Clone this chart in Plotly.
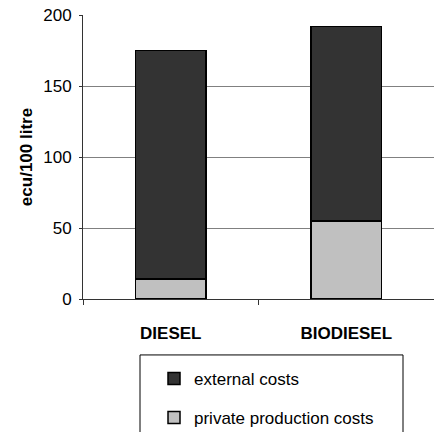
import plotly.graph_objects as go

# Cost comparison per 100 litres of fuel
fuels = ["DIESEL", "BIODIESEL"]
private_costs = [14, 55]
external_costs = [161, 137]

y_ticks = [0, 50, 100, 150, 200]

FONT = "Liberation Sans, Arial, sans-serif"

fig = go.Figure()
fig.add_trace(go.Bar(
    x=fuels, y=private_costs, name="private production costs",
    marker=dict(color="#c0c0c0", line=dict(color="#000000", width=1.5)),
    legendgroup="b", legendrank=2, width=0.4,
))
fig.add_trace(go.Bar(
    x=fuels, y=external_costs, name="external costs",
    marker=dict(color="#333333", line=dict(color="#000000", width=1.5)),
    legendgroup="a", legendrank=1, width=0.4,
))

fig.update_layout(
    width=434, height=432,
    margin=dict(l=83, r=0, t=15, b=133, autoexpand=False),
    barmode="stack",
    plot_bgcolor="white", paper_bgcolor="white",
    font=dict(family=FONT, size=17, color="#000000"),
    showlegend=True,
    legend=dict(
        traceorder="grouped", tracegroupgap=14,
        x=0.2023, xanchor="left", y=-0.218, yanchor="top",
        bgcolor="rgba(0,0,0,0)", borderwidth=0,
        font=dict(family=FONT, size=17, color="#000000"),
        itemclick=False,
    ),
    xaxis=dict(
        range=[-0.5, 1.5], automargin=False,
        showline=True, linecolor="#333333", linewidth=1,
        ticks="outside", tickson="boundaries", ticklen=5, tickcolor="#333333",
        tickfont=dict(family=FONT, size=17, color="#000000", weight="bold"),
        ticklabelstandoff=19,
        showgrid=False,
    ),
    yaxis=dict(
        range=[0, 200], tickvals=y_ticks, automargin=False,
        showline=True, linecolor="#333333", linewidth=1,
        ticks="outside", ticklen=3, tickcolor="#333333",
        showgrid=True, gridcolor="#808080", gridwidth=1,
        zeroline=False,
        ticklabelstandoff=4,
        tickfont=dict(family=FONT, size=17, color="#000000"),
        title=dict(text="<b>ecu/100 litre</b>", font=dict(family=FONT, size=17, color="#000000"), standoff=6),
    ),
    shapes=[dict(
        type="rect", xref="paper", yref="paper",
        x0=(140 - 83) / 351, x1=(403 - 83) / 351,
        y0=-0.197, y1=-0.52,
        line=dict(color="#000000", width=1), fillcolor="rgba(0,0,0,0)", layer="below",
    )],
)

fig.write_html("out.html")
